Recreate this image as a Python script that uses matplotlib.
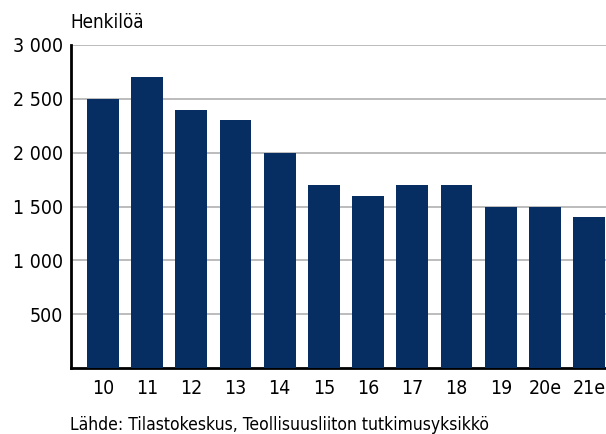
import matplotlib
matplotlib.use("Agg")
import matplotlib.pyplot as plt
from matplotlib.ticker import FuncFormatter

categories = ["10", "11", "12", "13", "14", "15", "16", "17", "18", "19", "20e", "21e"]
values = [2500, 2700, 2400, 2300, 2000, 1700, 1600, 1700, 1700, 1500, 1500, 1400]
yticks = [500, 1000, 1500, 2000, 2500, 3000]

plt.rcParams['font.family'] = ['DejaVu Sans']
plt.rcParams['font.stretch'] = 'condensed'

fig = plt.figure(figsize=(6.06, 4.34), dpi=100)
ax = fig.add_axes([71/606, 66/434, 1 - 71/606, (368-45)/434])

x = list(range(len(categories)))
ax.bar(x, values, width=0.72, color="#062E63", zorder=3)
ax.set_xlim(-0.72, 11.38)
ax.set_ylim(0, 3000)
ax.set_yticks(yticks)
ax.yaxis.set_major_formatter(FuncFormatter(lambda v, p: f"{int(v):,}".replace(",", " ")))
ax.set_xticks(x)
ax.set_xticklabels(categories)
ax.grid(axis='y', color="#B0B0B0", linewidth=1.2, zorder=0)
ax.tick_params(axis='both', length=0, labelsize=14)
ax.tick_params(axis='y', pad=6)
ax.tick_params(axis='x', pad=8)
for s in ['top', 'right']:
    ax.spines[s].set_visible(False)
ax.spines['left'].set_linewidth(2)
ax.spines['bottom'].set_linewidth(2)

fig.text(70/606, 1 - 22/434, "Henkilöä", fontsize=13.5, ha='left', va='center')
fig.text(70/606, 1 - 425/434, "Lähde: Tilastokeskus, Teollisuusliiton tutkimusyksikkö", fontsize=12.5, ha='left', va='center')

fig.savefig("out.png", dpi=100)
